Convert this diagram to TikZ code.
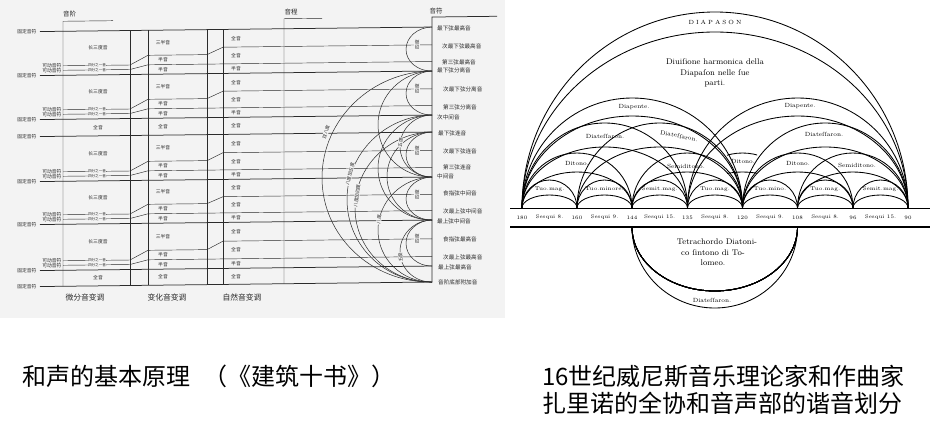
\documentclass[tikz,border=0pt]{standalone}
\usepackage{fontspec}
\newfontfamily\cjk{Noto Sans CJK SC}
\usetikzlibrary{positioning}
\definecolor{carta}{HTML}{F3F3F3}
\definecolor{inchiostro}{HTML}{2B2B2B}
\tikzset{
	% linee della tavola di sinistra
	fisso/.style={line width=0.75pt, inchiostro},
	sottile/.style={line width=0.45pt, inchiostro},
	arco/.style={line width=0.5pt, inchiostro},
	% testi cinesi piccoli
	cella/.style={font=\cjk\fontsize{4.8}{5}\selectfont, inner sep=0.3pt, text=inchiostro},
	quarto/.style={font=\cjk\fontsize{3.6}{4}\selectfont, inner sep=0.2pt, fill=carta, text=inchiostro},
	mobile/.style={font=\cjk\fontsize{4.8}{5}\selectfont, inner sep=0.3pt, anchor=east, text=inchiostro},
	grado/.style={font=\cjk\fontsize{4.6}{5}\selectfont, inner sep=0.4pt, fill=carta, text=inchiostro},
	nota/.style={font=\cjk\fontsize{5.6}{6}\selectfont, inner sep=0pt, anchor=west, text=inchiostro},
	intest/.style={font=\cjk\fontsize{6.5}{7}\selectfont, inner sep=0pt, text=inchiostro},
	piede/.style={font=\cjk\fontsize{7.8}{8}\selectfont, inner sep=0pt, text=inchiostro},
	% tavola di Zarlino
	banda/.style={line width=0.85pt},
	voce/.style={font=\fontsize{6}{7}\selectfont, inner sep=0.5pt},
	passo/.style={font=\fontsize{5.4}{6}\selectfont, inner sep=0.3pt},
	numero/.style={font=\fontsize{5.2}{6}\selectfont, inner sep=0pt},
	testo/.style={font=\fontsize{8.2}{10}\selectfont, inner sep=0pt},
	% didascalie
	didasc/.style={font=\cjk\fontsize{24}{28}\selectfont, inner sep=0pt},
}
% piede sinistro, piede destro, raggio esterno, raggio interno
\newcommand{\banda}[4]{%
	\draw[banda] (#1,208) arc[start angle=180, end angle=360, x radius={(#2-#1)/2}, y radius=#3];
	\draw[banda] (#1,208) arc[start angle=180, end angle=360, x radius={(#2-#1)/2}, y radius=#4];
}

\begin{document}
\begin{tikzpicture}[x=1pt, y=-1pt]
    \useasboundingbox (0,0) rectangle (943,426);
    \fill[carta] (0,0) rectangle (505,318);

    % ---------------- tavola di sinistra (scansione un po' inclinata) ----------------
    \begin{scope}[yslant=0.0115]
    % suoni fissi
    \foreach \y in {32,76,120,137,182,225,271,287}{
        \draw[fisso] (40,\y) -- (432,\y);
        \node[mobile] (fisso\y) at (37,\y) {固定音符};
    }
    % colonne
    \foreach \x in {130,148,207,223} \draw[sottile] (\x,32) -- (\x,287);
    \draw[sottile] (113,22) -- (63,22) -- (63,287);
    \draw[sottile] (322,22) -- (284,22) -- (284,287);
    \draw[fisso] (497,22) -- (432,22) -- (432,287);

    % tetracordi
    \foreach \fa/\fb [count=\i] in {32/76,76/120,137/182,182/225,225/271}{
        \pgfmathsetmacro\qb{\fb-9.5}
        \pgfmathsetmacro\qa{\fb-5}
        \pgfmathsetmacro\qc{\fb-19}
        \pgfmathsetmacro\qe{(\fa+\qb)/2+0.5}
        \draw[sottile] (63,\qb) -- (130,\qb) -- (148,\qc) -- (207,\qc) -- (223,\qe) -- (432,\qe);
        \draw[sottile] (63,\qa) -- (130,\qa) -- (148,\qb) -- (432,\qb);
        \node[mobile] (mobA\i) at (62,\qb) {可动音符};
        \node[mobile] (mobB\i) at (62,\qa) {可动音符};
        \node[quarto] (qrtA\i) at (97,\qb) {四分之一音};
        \node[quarto] (qrtB\i) at (97,\qa) {四分之一音};
        \node[cella] (terza\i) at (98,{(\fa+\qb)/2}) {长三度音};
        \node[cella] (trisem\i) at (163,{(\fa+\qc)/2}) {三半音};
        \node[cella] (semA\i) at (163,{(\qc+\qb)/2}) {半音};
        \node[cella] (semB\i) at (163,{(\qb+\fb)/2}) {半音};
        \node[cella] (tonA\i) at (236,{(\fa+\qe)/2}) {全音};
        \node[cella] (tonB\i) at (236,{(\qe+\qb)/2}) {全音};
        \node[cella] (semC\i) at (236,{(\qb+\fb)/2}) {半音};
        \draw[arco] (432,\fa) arc[start angle=270, end angle=90, x radius=26, y radius={(\fb-\fa)/2}];
        \node[grado, rotate=90] (quarta\i) at (417,\qe) {四度};
    }
    % toni interi fra i tetracordi
    \foreach \y [count=\j] in {128.5,279}{
        \node[cella] (tonoA\j) at (98,\y) {全音};
        \node[cella] (tonoB\j) at (163,\y) {全音};
        \node[cella] (tonoC\j) at (236,\y) {全音};
    }

    % archi degli intervalli
    \draw[arco] (432,76) arc[start angle=270, end angle=90, x radius=110, y radius=105.5];
    \draw[arco] (432,120) arc[start angle=270, end angle=90, x radius=85, y radius=83.5];
    \draw[arco] (432,137) arc[start angle=270, end angle=90, x radius=77, y radius=75];
    \draw[arco] (432,182) arc[start angle=270, end angle=90, x radius=54, y radius=52.5];
    \draw[arco] (432,120) arc[start angle=270, end angle=90, x radius=32, y radius=31];
    \draw[arco] (432,225) arc[start angle=270, end angle=90, x radius=32, y radius=31];
    \draw[arco] (432,76) arc[start angle=270, end angle=90, x radius=54, y radius=53];
    \draw[arco] (432,120) arc[start angle=270, end angle=90, x radius=54, y radius=52.5];
    \draw[arco] (432,137) arc[start angle=270, end angle=90, x radius=45, y radius=44];
    \node[grado, rotate=72] (dopp) at (326,136) {双八度};
    \node[grado, rotate=76] (ottq) at (350,178) {八度加五度};
    \node[grado, rotate=82] (ottc) at (357,200) {八度加四度};
    \node[grado, rotate=82] (ott) at (379,224) {八度};
    \node[grado, rotate=86] (quinA) at (400.5,147) {五度};
    \node[grado, rotate=96] (quinB) at (400.5,262) {五度};
    \end{scope}

    % ---------------- intestazioni ----------------
    \node[intest, anchor=west] (scala) at (63,14) {音阶};
    \node[intest] (interv) at (291,12) {音程};
    \node[intest] (suoni) at (436,11) {音符};
    \node[piede] (micro) at (85,298) {微分音变调};
    \node[piede] (cromat) at (167,298) {变化音变调};
    \node[piede] (diat) at (242,298) {自然音变调};

    % ---------------- nomi dei suoni ----------------
    \foreach \x/\y/\t [count=\k] in {437/28/最下弦最高音, 442/46/次最下弦最高音, 442/62/第三弦最高音,
        437/70/最下弦分离音, 443/89/次最下弦分离音, 443/107/第三弦分离音, 437/117/次中间音,
        438/133/最下弦连音, 443/151/次最下弦连音, 443/167/第三弦连音, 437/176/中间音,
        443/193/食指弦中间音, 443/211/次最上弦中间音, 437/221/最上弦中间音, 443/239/食指弦最高音,
        443/257/次最上弦最高音, 438/267/最上弦最高音, 438/282/音阶底部附加音}
        \node[nota] (nota\k) at (\x,\y) {\t};

    % ---------------- tavola di Zarlino ----------------
    \draw[line width=0.6pt] (510,208) -- (930,208);
    \draw[line width=2.3pt] (510,227) -- (930,227);
    \banda{522}{908}{196}{176}
    \banda{522}{742.5}{110}{92}
    \banda{687.5}{908}{110}{92}
    \banda{522}{687.5}{85}{61}
    \banda{577}{742.5}{85}{61}
    \banda{742.5}{908}{85}{61}
    \banda{522}{632}{55}{36}
    \banda{632}{742.5}{55}{36}
    \banda{742.5}{853}{55}{36}
    \banda{797.5}{908}{55}{36}
    \begin{scope}
        \clip (727,140) rectangle (757,180);
        \banda{687.5}{797.5}{55}{36}
    \end{scope}
    \foreach \pa/\pb in {522/577, 577/632, 632/687.5, 687.5/742.5, 742.5/797.5, 797.5/853, 853/908}
        \banda{\pa}{\pb}{28}{13}
    % sotto la linea
    \draw[banda] (632,227) arc[start angle=180, end angle=0, x radius=82.75, y radius=64];
    \draw[banda] (632,227) arc[start angle=180, end angle=0, x radius=82.75, y radius=81];

    \node[voce] (diapason) at (715,22) {D\kern2pt I\kern2pt A\kern2pt P\kern2pt A\kern2pt S\kern2pt O\kern2pt N};
    \node[testo] (div1) at (715,62) {Diuiſione harmonica della};
    \node[testo] (div2) at (715,73) {Diapaſon nelle ſue};
    \node[testo] (div3) at (715,84) {parti.};
    \node[voce] (pente1) at (634,107) {Diapente.};
    \node[voce] (pente2) at (800,106) {Diapente.};
    \node[voce] (tess1) at (605,136) {Diateſſaron.};
    \node[voce, rotate=-12] (tess2) at (679,136) {Diateſſaron.};
    \node[voce] (tess3) at (824,134) {Diateſſaron.};
    \node[voce] (dit1) at (577,163) {Ditono.};
    \node[voce] (dit2) at (743,161) {Ditono.};
    \node[voce] (dit3) at (798,163) {Ditono.};
    \node[voce] (semd1) at (686,166) {Semiditono.};
    \node[voce] (semd2) at (857,165) {Semiditono.};
    \foreach \x/\t [count=\k] in {549.5/Tuo.mag., 604.5/Tuo.minore., 659.7/Semit.mag., 715/Tuo.mag.,
        770/Tuo.mino., 825.2/Tuo.mag., 880.5/Semit.mag.}
        \node[passo] (passo\k) at (\x,189) {\t};
    \foreach \x/\n [count=\k] in {522/180, 577/160, 632/144, 687.5/135, 742.5/120, 797.5/108, 853/96, 908/90}
        \node[numero] (num\k) at (\x,217.5) {\n};
    \foreach \x/\n [count=\k] in {549.5/8., 604.5/9., 659.7/15., 715/8., 770/9., 825.2/8., 880.5/15.}
        \node[numero] (sesq\k) at (\x,217.5) {Sesqui \n};
    \node[testo] (tet1) at (717,242) {Tetrachordo Diatoni-};
    \node[testo] (tet2) at (713,252.5) {co ſintono di To-};
    \node[testo] (tet3) at (713,263) {lomeo.};
    \node[voce] (tess4) at (712,300) {Diateſſaron.};

    % ---------------- didascalie ----------------
    \node[didasc, anchor=west] (cap1) at (22,376) {和声的基本原理\hspace{0.55em}（《建筑十书》）};
    \node[didasc, anchor=west] (cap2) at (542,376) {16世纪威尼斯音乐理论家和作曲家};
    \node[didasc, below=4pt of cap2.south west, anchor=north west] (cap3) {扎里诺的全协和音声部的谐音划分};
\end{tikzpicture}
\end{document}
